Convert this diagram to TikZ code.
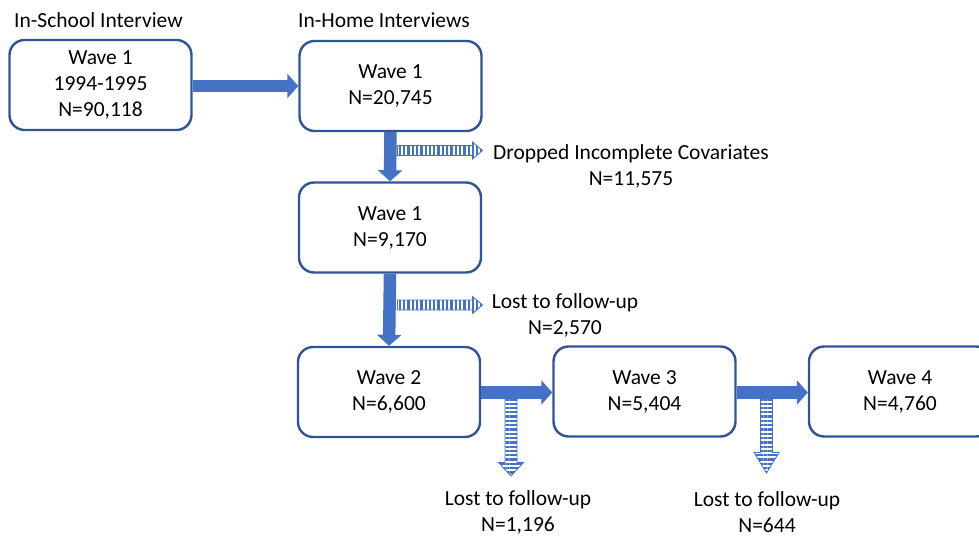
\documentclass[tikz,border=0pt]{standalone}
\usepackage{fontspec}
\setmainfont{Carlito}
\usetikzlibrary{arrows.meta,patterns.meta}
\definecolor{boxblue}{HTML}{2F5597}
\definecolor{arrowblue}{HTML}{4472C4}
\begin{document}
\begin{tikzpicture}[x=1pt,y=-1pt,
  every node/.style={font=\fontsize{21.5}{26}\selectfont, text=black},
  wavebox/.style={draw=boxblue, line width=2.4pt, rounded corners=15pt, fill=white,
    minimum width=182pt, minimum height=90pt, align=center, inner sep=0pt},
  lbl/.style={align=center, inner sep=0pt},
  fatarrow/.style={draw=arrowblue, line width=12.5pt, -{Triangle[length=11pt,width=24pt]}},
  stripeR/.style={draw=arrowblue, line width=0.8pt, pattern={Lines[angle=90,distance=4.3pt,line width=2.3pt]}, pattern color=arrowblue},
  stripeD/.style={draw=arrowblue, line width=0.8pt, pattern={Lines[angle=0,distance=4.3pt,line width=2.3pt]}, pattern color=arrowblue}
]
\useasboundingbox (0,0) rectangle (979,537);

% headings
\node[lbl, anchor=west] (h1) at (14,20) {In-School Interview};
\node[lbl, anchor=west] (h2) at (298,20) {In-Home Interviews};

% boxes
\node[wavebox] (A) at (100.5,85) {Wave 1\\1994-1995\\N=90,118};
\node[wavebox] (B) at (390.5,86) {Wave 1\\N=20,745};
\node[wavebox] (C) at (390,227.5) {Wave 1\\N=9,170};
\node[wavebox] (D) at (389,392) {Wave 2\\N=6,600};
\node[wavebox] (E) at (644.5,391.5) {Wave 3\\N=5,404};
\begin{scope}
\clip (0,0) rectangle (979,537);
\node[wavebox] (F) at (900,391.5) {Wave 4\\N=4,760};
\end{scope}

% labels
\node[lbl] (L1) at (631,166.5) {Dropped Incomplete Covariates\\N=11,575};
\node[lbl] (L2) at (565,315.5) {Lost to follow-up\\N=2,570};
\node[lbl] (L3) at (518,512) {Lost to follow-up\\N=1,196};
\node[lbl] (L4) at (767,512) {Lost to follow-up\\N=644};

% main arrows
\draw[fatarrow] (A.east |- B.west) -- (B.west);
\draw[fatarrow] (B.south) -- (C.north);
\draw[fatarrow] (C.south) -- (D.north);
\draw[fatarrow] (D.east |- 0,392.5) -- (E.west |- 0,392.5);
\draw[fatarrow] (E.east |- 0,392.5) -- (F.west |- 0,392.5);

% striped side arrows
\coordinate (s1) at (397.5,150.5);
\coordinate (s2) at (397.5,305);
\coordinate (s3) at (511,398.5);
\coordinate (s4) at (766.5,398.5);

\path[stripeR] (s1) ++(0,-5) -- ++(75,0) -- ++(0,-3.5) -- ++(10,8.5) -- ++(-10,8.5) -- ++(0,-3.5) -- ++(-75,0) -- cycle;
\path[stripeR] (s2) ++(0,-5) -- ++(75,0) -- ++(0,-3.5) -- ++(10,8.5) -- ++(-10,8.5) -- ++(0,-3.5) -- ++(-75,0) -- cycle;
\path[stripeD] (s3) ++(-6,0) -- ++(0,64) -- ++(-6.5,0) -- ++(12.5,13.5) -- ++(12.5,-13.5) -- ++(-6.5,0) -- ++(0,-64) -- cycle;
\path[stripeD] (s4) ++(-6,0) -- ++(0,54) -- ++(-6.5,0) -- ++(12.5,20.5) -- ++(12.5,-20.5) -- ++(-6.5,0) -- ++(0,-54) -- cycle;
\end{tikzpicture}
\end{document}
